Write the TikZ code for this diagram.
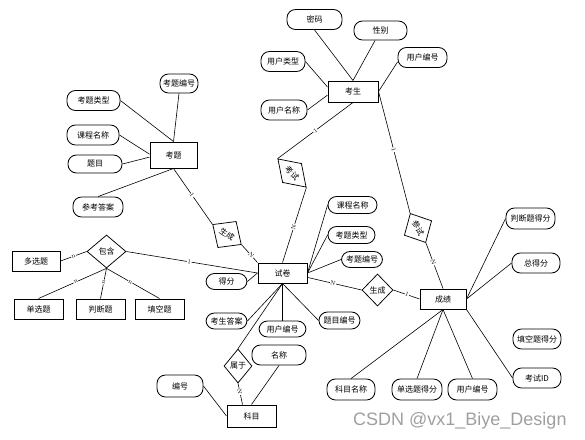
\documentclass[tikz,border=0pt]{standalone}
\usepackage{fontspec}
\newfontfamily\cjk{Noto Sans CJK SC}
\newfontfamily\wmfont{Liberation Sans}
\usetikzlibrary{shapes.geometric}
\begin{document}
\begin{tikzpicture}[x=1pt,y=-1pt,
  font=\cjk\fontsize{8}{9}\selectfont,
  ent/.style={draw, line width=1pt, minimum width=49pt, minimum height=20pt, inner sep=1pt},
  attr/.style={draw, line width=0.85pt, rounded corners=8.5pt, minimum height=20pt, inner xsep=2pt, inner ysep=1pt},
  rel/.style={draw, diamond, line width=0.75pt, inner sep=0pt},
  ln/.style={line width=0.6pt},
  lab/.style={fill=white, inner sep=0.4pt, sloped, font=\fontsize{6}{6}\selectfont}]
\useasboundingbox (0,0) rectangle (585,439);

% 考生
\node[ent, minimum width=50pt, minimum height=21pt] (ks) at (353,91.5) {考生};
\node[attr, minimum width=55pt] (mm) at (314.5,19.5) {密码};
\node[attr, minimum width=53pt, minimum height=19pt] (xb) at (380.5,30.5) {性别};
\node[attr, minimum width=44pt] (yhlx) at (283,61.5) {用户类型};
\node[attr, minimum width=49pt] (yhbh1) at (422.5,57.5) {用户编号};
\node[attr, minimum width=46pt] (yhmc) at (284,110) {用户名称};

% 考题
\node[ent, minimum width=47pt, minimum height=26pt] (kt) at (173.5,155) {考题};
\node[attr, minimum width=38pt, minimum height=19pt] (ktbh1) at (179,83.5) {考题编号};
\node[attr, minimum width=53pt] (ktlx1) at (93.5,100.5) {考题类型};
\node[attr, minimum width=52pt] (kcmc1) at (93,135) {课程名称};
\node[attr, minimum width=54pt, minimum height=18pt] (tm) at (95,164) {题目};
\node[attr, minimum width=50pt] (ckda) at (98,207) {参考答案};

% 试卷
\node[ent, minimum width=49pt, minimum height=20pt] (sj) at (282.5,273) {试卷};
\node[attr, minimum width=49pt, minimum height=17pt] (kcmc2) at (352.5,205) {课程名称};
\node[attr, minimum width=47pt, minimum height=17pt] (ktlx2) at (351.5,235) {考题类型};
\node[attr, minimum width=41pt, minimum height=16pt] (ktbh2) at (362,259.5) {考题编号};
\node[attr, minimum width=41pt, minimum height=16pt] (df) at (226.5,281.5) {得分};
\node[attr, minimum width=41pt, minimum height=16pt] (ksda) at (226.5,321) {考生答案};
\node[attr, minimum width=47pt, minimum height=16pt] (yhbh2) at (282.5,329) {用户编号};
\node[attr, minimum width=41pt, minimum height=17pt] (tmbh) at (339.5,320.5) {题目编号};

% 科目
\node[ent, minimum width=49pt, minimum height=22pt] (km) at (251.5,416) {科目};
\node[attr, minimum width=54pt] (mc) at (279,355) {名称};
\node[attr, minimum width=46pt, minimum height=22pt] (bh) at (180,386) {编号};
\node[rel, minimum width=28pt, minimum height=34pt] (sy) at (238,366) {属于};

% 包含
\node[rel, minimum width=39pt, minimum height=33pt] (bhan) at (106.5,251.5) {包含};
\node[ent, minimum width=48pt] (dxt) at (36,261) {多选题};
\node[ent] (danxt) at (38.5,309) {单选题};
\node[ent] (pdt) at (100.5,309) {判断题};
\node[ent] (tkt) at (159.5,309) {填空题};

% 成绩
\node[ent, minimum width=46pt, minimum height=20pt] (cj) at (443,299) {成绩};
\node[rel, minimum width=31pt, minimum height=32pt] (sc2) at (377.5,290) {生成};
\node[attr, minimum width=49pt, minimum height=21pt] (pdtdf) at (530.5,218.5) {判断题得分};
\node[attr, minimum width=48pt] (zdf) at (536,263) {总得分};
\node[attr, minimum width=48pt] (tktdf) at (537,339) {填空题得分};
\node[attr, minimum width=48pt] (ksid) at (537,378) {考试ID};
\node[attr, minimum width=48pt, minimum height=21pt] (kmmc) at (351,389.5) {科目名称};
\node[attr, minimum width=50pt, minimum height=21pt] (dxtdf) at (417,389.5) {单选题得分};
\node[attr, minimum width=49pt, minimum height=21pt] (yhbh3) at (472.5,389.5) {用户编号};

% tilted relationships
\node[rel, rotate=-45, minimum width=40pt, minimum height=27pt] (kss) at (292,173) {考试};
\node[rel, rotate=-35, minimum width=35pt, minimum height=32pt] (sc1) at (227,234.5) {生成};
\node[rel, rotate=-62, minimum width=33pt, minimum height=31pt] (cs) at (418,228) {参试};

% connectors: 考生
\draw[ln] (mm.south) -- (ks.north);
\draw[ln] (xb) -- (ks.north);
\draw[ln] (yhlx.east) -- (ks.170);
\draw[ln] (yhbh1.190) -- (ks.east);
\draw[ln] (yhmc.east) -- (ks.188);
\draw[ln] (ks.south) -- node[lab, pos=0.5]{1} (kss.west);
\draw[ln] (kss.east) -- node[lab, pos=0.53]{N} (sj.north);
\draw[ln] (ks.east) -- node[lab, pos=0.48]{1} (cs.west);
\draw[ln] (cs.east) -- node[lab, pos=0.43]{N} (cj.north);

% 考题
\draw[ln] (ktbh1.south) -- (kt.north);
\draw[ln] (ktlx1.east) -- (kt.north);
\draw[ln] (kcmc1.east) -- (kt.178);
\draw[ln] (tm.east) -- (kt.185);
\draw[ln] (ckda.north) -- (kt.south);
\draw[ln] (kt.south) -- node[lab, pos=0.48]{1} (sc1.west);
\draw[ln] (sc1.east) -- node[lab, pos=0.6]{N} (sj.north west);

% 试卷
\draw[ln] (kcmc2.west) -- (sj.east);
\draw[ln] (ktlx2.west) -- (sj.east);
\draw[ln] (ktbh2.west) -- (sj.east);
\draw[ln] (sj.-10) -- node[lab, pos=0.47]{N} (sc2.west);
\draw[ln] (sc2.east) -- node[lab, pos=0.52]{1} (cj.west);
\draw[ln] (df.east) -- (sj.west);
\draw[ln] (bhan.east) -- node[lab, pos=0.48]{1} (sj.west);
\draw[ln] (ksda.east) -- (sj.south);
\draw[ln] (yhbh2.north) -- (sj.south);
\draw[ln] (tmbh.west) -- (sj.south);
\draw[ln] (sy.north) -- (sj.south);

% 科目
\draw[ln] (sy.south) -- node[lab, pos=0.4]{N} (km.128);
\draw[ln] (mc.south) -- (km.north);
\draw[ln] (bh.east) -- (km.west);

% 包含
\draw[ln] (dxt.east) -- node[lab, pos=0.5]{n} (bhan.west);
\draw[ln] (bhan.south) -- node[lab, pos=0.45]{n} (danxt.north);
\draw[ln] (bhan.south) -- node[lab, pos=0.45]{n} (pdt.north);
\draw[ln] (bhan.south) -- node[lab, pos=0.45]{n} (tkt.north);

% 成绩
\draw[ln] (pdtdf.west) -- (cj.east);
\draw[ln] (zdf.west) -- (cj.east);
\draw[ln] (ksid.west) -- (cj.south east);
\draw[ln] (kmmc.north) -- (cj.south);
\draw[ln] (dxtdf.north) -- (cj.south);
\draw[ln] (yhbh3.north) -- (cj.south);

% watermark
\node[anchor=base west, inner sep=0pt, font=\wmfont\fontsize{18}{18}\selectfont, text=gray!75] (wm) at (353,425) {CSDN @vx1\_Biye\_Design};
\end{tikzpicture}
\end{document}
